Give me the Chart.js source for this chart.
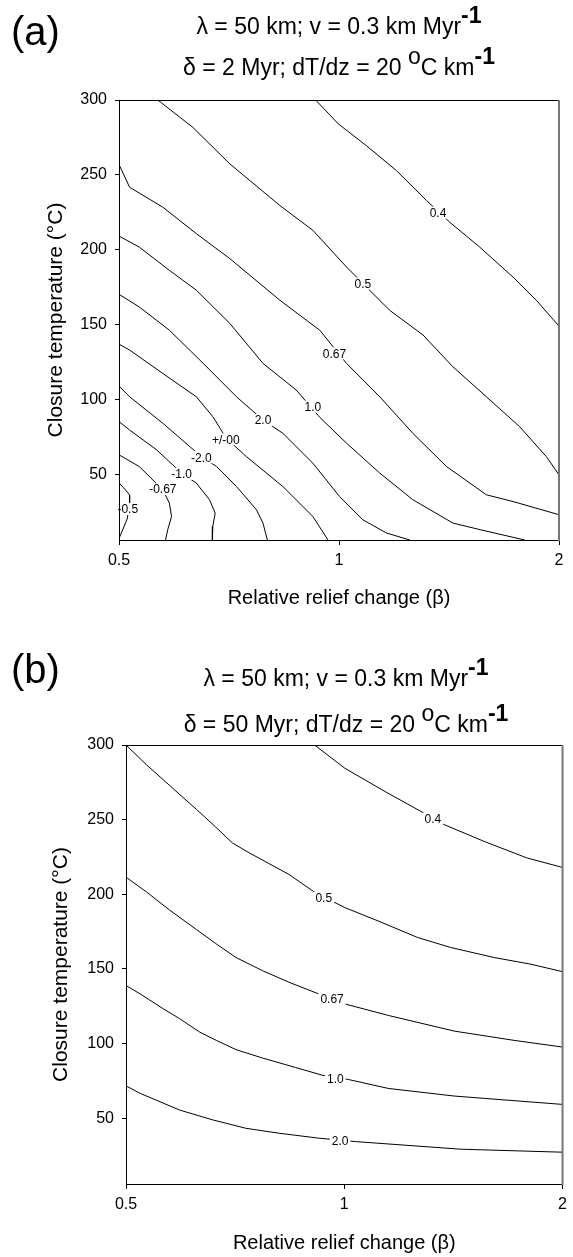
<!DOCTYPE html>
<html>
<head>
<meta charset="utf-8">
<script src="https://cdn.jsdelivr.net/npm/chart.js@4.4.0/dist/chart.umd.min.js"></script>
<style>
  body { margin:0; background:#fff; width:573px; height:1257px; position:relative; overflow:hidden;
         font-family:"Liberation Sans", Arial, sans-serif; color:#000; }
  canvas { position:absolute; left:0; }
  .tag { position:absolute; left:11px; font-size:40px; line-height:40px; }
  .ttl { position:absolute; width:500px; text-align:center; font-size:23px; line-height:23px; white-space:nowrap; }
  .up { position:relative; top:-0.5em; }
  .upb { position:relative; top:-0.5em; font-weight:bold; }
</style>
</head>
<body>
<canvas id="chartA" width="573" height="625" style="top:0"></canvas>
<canvas id="chartB" width="573" height="632" style="top:625px"></canvas>

<div class="tag" style="top:11px">(a)</div>
<div class="ttl" style="left:89px; top:15px">λ = 50 km; v = 0.3 km Myr<span class="upb">-1</span></div>
<div class="ttl" style="left:89px; top:56px">δ = 2 Myr; dT/dz = 20 <span class="up">o</span>C km<span class="upb">-1</span></div>

<div class="tag" style="top:649px">(b)</div>
<div class="ttl" style="left:96px; top:667px">λ = 50 km; v = 0.3 km Myr<span class="upb">-1</span></div>
<div class="ttl" style="left:96px; top:713px">δ = 50 Myr; dT/dz = 20 <span class="up">o</span>C km<span class="upb">-1</span></div>

<script>
// axis ticks
const betaTicks = [0.5, 1, 2];
const tempTicks = [50, 100, 150, 200, 250, 300];

// ---- panel (a): delta = 2 Myr ----
const aBeta04 = [0.929, 0.998, 1.090, 1.198, 1.317, 1.417, 1.558, 1.730, 1.862, 2.0];
const aTemp04 = [300, 284, 269.5, 252.9, 232.9, 218.4, 201.7, 181.7, 166.2, 148.9];
const aBeta05 = [0.565, 0.631, 0.709, 0.830, 0.921, 1.024, 1.173, 1.303, 1.432, 1.591, 1.767, 1.922, 2.0];
const aTemp05 = [300, 281.7, 257.3, 229.5, 212.9, 188.4, 159.5, 143, 121.7, 101.7, 81.7, 61.7, 49.5];
const aBeta067 = [0.5, 0.517, 0.574, 0.638, 0.709, 0.830, 0.941, 1.024, 1.137, 1.262, 1.403, 1.591, 1.730, 2.0];
const aTemp067 = [256.9, 241.7, 228.4, 210.7, 194, 166.2, 146.2, 124, 101.7, 77.3, 55.1, 36.2, 31.7, 22.9];
const aBeta10 = [0.5, 0.533, 0.586, 0.638, 0.709, 0.787, 0.874, 0.941, 1.024, 1.137, 1.262, 1.432, 1.56, 1.795];
const aTemp10 = [209.1, 201.7, 186.2, 172.9, 150.7, 124, 106.2, 88, 70.7, 50.7, 32.9, 17.3, 12.9, 6];
const aBeta20 = [0.5, 0.533, 0.586, 0.652, 0.724, 0.787, 0.838, 0.921, 1.002, 1.078, 1.161, 1.25];
const aTemp20 = [170.2, 161.7, 146.2, 124, 101.7, 86.2, 77.3, 57.3, 35, 19.5, 10.7, 6];
const aBetaInf = [0.5, 0.517, 0.574, 0.638, 0.672, 0.701, 0.747, 0.838, 0.921, 0.966];
const aTempInf = [136.9, 132.9, 117.3, 101.7, 88.4, 74, 61.7, 41.7, 21.7, 6];
const aBetaM20 = [0.5, 0.517, 0.574, 0.625, 0.648, 0.680, 0.724, 0.771, 0.787, 0.798];
const aTempM20 = [108.9, 101.7, 84, 68.4, 61.7, 55.1, 41.7, 26.2, 17.3, 6];
const aBetaM10 = [0.5, 0.517, 0.563, 0.609, 0.638, 0.665, 0.677, 0.672, 0.671];
const aTempM10 = [85.1, 79.5, 66.2, 50.7, 44, 32.9, 24, 15.1, 6];
const aBetaM067 = [0.5, 0.533, 0.574, 0.586, 0.590, 0.583, 0.579];
const aTempM067 = [62.9, 55.1, 39.5, 30.7, 21.7, 12.9, 6];
const aBetaM05 = [0.5, 0.507, 0.517, 0.517, 0.513, 0.505, 0.5];
const aTempM05 = [44.2, 41, 36.2, 30, 20, 12, 7];

const aLabelText = ['0.4', '0.5', '0.67', '1.0', '2.0', '+/-00', '-2.0', '-1.0', '-0.67', '-0.5'];
const aLabelBeta = [1.366, 1.078, 0.986, 0.921, 0.787, 0.700, 0.648, 0.609, 0.574, 0.514];
const aLabelTemp = [224.7, 177.3, 130.7, 95.1, 86.2, 73.3, 61.3, 50.2, 40, 26.7];

// ---- panel (b): delta = 50 Myr ----
const bBeta04 = [0.910, 1.002, 1.149, 1.276, 1.373, 1.558, 1.785, 2.0];
const bTemp04 = [300, 284.4, 267.7, 255.5, 246.7, 235.5, 224.4, 218.0];
const bBeta05 = [0.5, 0.534, 0.574, 0.625, 0.665, 0.701, 0.740, 0.839, 0.912, 1.002, 1.113, 1.262, 1.402, 1.608, 1.804, 2.0];
const bTemp05 = [300, 286.6, 273, 257, 245, 234.4, 227.7, 213.3, 201.1, 191.1, 182.2, 171.1, 164.4, 157.7, 153.3, 148.2];
const bBeta067 = [0.5, 0.534, 0.574, 0.625, 0.665, 0.709, 0.771, 0.839, 0.922, 1.0, 1.15, 1.418, 1.714, 2.0];
const bTemp067 = [211.5, 201.5, 189.5, 176.5, 167, 157.7, 148.9, 141.1, 133.3, 126.7, 118.9, 108.4, 102.2, 97.7];
const bBeta10 = [0.5, 0.523, 0.563, 0.593, 0.632, 0.666, 0.709, 0.771, 0.857, 0.932, 1.013, 1.15, 1.418, 2.0];
const bTemp10 = [138.9, 133.3, 123.3, 116.7, 107.7, 102.2, 96, 90.4, 84, 78.9, 76, 70, 64.9, 59.3];
const bBeta20 = [0.5, 0.523, 0.557, 0.593, 0.659, 0.732, 0.813, 0.922, 1.036, 1.448, 2.0];
const bTemp20 = [71.7, 66.7, 61.1, 55.5, 48.9, 43.3, 40, 36.7, 34.4, 29.3, 27.3];

const bLabelText = ['0.4', '0.5', '0.67', '1.0', '2.0'];
const bLabelBeta = [1.325, 0.937, 0.962, 0.972, 0.987];
const bLabelTemp = [250.7, 197.7, 130, 76.7, 34.9];

const fontFamily = '"Liberation Sans", Arial, sans-serif';

// contour labels with a white gap, then the plot frame on top
const contourPlugin = {
  id: 'contour',
  afterDatasetsDraw(chart, args, opts) {
    const ctx = chart.ctx;
    const a = chart.chartArea;
    const x = chart.scales.x, y = chart.scales.y;
    ctx.save();
    ctx.font = '12px ' + fontFamily;
    ctx.textAlign = 'center';
    ctx.textBaseline = 'middle';
    opts.text.forEach((t, i) => {
      const px = x.getPixelForValue(opts.beta[i]);
      const py = y.getPixelForValue(opts.temp[i]);
      const w = ctx.measureText(t).width + 4;
      ctx.fillStyle = '#fff';
      ctx.fillRect(px - w / 2, py - 6, w, 12);
      ctx.fillStyle = '#000';
      ctx.fillText(t, px, py + 1);
    });
    // frame
    ctx.lineWidth = 1;
    ctx.strokeStyle = '#000';
    ctx.beginPath();
    ctx.moveTo(a.left + 0.5, a.top);
    ctx.lineTo(a.left + 0.5, a.bottom + 0.5);
    ctx.lineTo(a.right, a.bottom + 0.5);
    ctx.moveTo(a.left, a.top + 0.5);
    ctx.lineTo(a.right, a.top + 0.5);
    ctx.stroke();
    ctx.strokeStyle = '#777';
    ctx.lineWidth = 2;
    ctx.beginPath();
    ctx.moveTo(a.right, a.top);
    ctx.lineTo(a.right, a.bottom + 1);
    ctx.stroke();
    ctx.restore();
  }
};

function makePanel(id, lines, lab, g) {
  const datasets = lines.map(l => ({
    label: l.name,
    data: l.beta.map((b, i) => ({ x: b, y: l.temp[i] })),
    showLine: true,
    borderColor: '#000',
    borderWidth: 1,
    pointRadius: 0,
    tension: 0,
    fill: false
  }));
  return new Chart(document.getElementById(id), {
    type: 'scatter',
    data: { datasets: datasets },
    plugins: [contourPlugin],
    options: {
      responsive: false,
      animation: false,
      layout: { padding: { top: g.top, right: g.right, left: 0, bottom: 0 } },
      plugins: {
        legend: { display: false },
        tooltip: { enabled: false },
        contour: lab
      },
      scales: {
        x: {
          type: 'logarithmic',
          min: 0.5,
          max: 2,
          afterBuildTicks: s => { s.ticks = betaTicks.map(v => ({ value: v })); },
          afterFit: s => { s.height = g.xHeight; },
          grid: { drawOnChartArea: false, drawTicks: true, tickLength: 5, color: '#000' },
          border: { display: false },
          ticks: { color: '#000', padding: 6, maxRotation: 0, font: { size: 16, family: fontFamily },
                   callback: v => String(v) },
          title: { display: true, text: 'Relative relief change (β)', color: '#000',
                   font: { size: 20, family: fontFamily }, padding: { top: 0, bottom: g.xTitlePad } }
        },
        y: {
          min: 6,
          max: 300,
          afterBuildTicks: s => { s.ticks = tempTicks.map(v => ({ value: v })); },
          afterFit: s => { s.width = g.yWidth; },
          grid: { drawOnChartArea: false, drawTicks: true, tickLength: 4, color: '#000' },
          border: { display: false },
          ticks: { color: '#000', padding: 8, font: { size: 16, family: fontFamily } },
          title: { display: true, text: 'Closure temperature (°C)', color: '#000',
                   font: { size: 21, family: fontFamily }, padding: { top: g.yTitlePad, bottom: 0 } }
        }
      }
    }
  });
}

makePanel('chartA', [
  { name: '0.4', beta: aBeta04, temp: aTemp04 },
  { name: '0.5', beta: aBeta05, temp: aTemp05 },
  { name: '0.67', beta: aBeta067, temp: aTemp067 },
  { name: '1.0', beta: aBeta10, temp: aTemp10 },
  { name: '2.0', beta: aBeta20, temp: aTemp20 },
  { name: '+/-00', beta: aBetaInf, temp: aTempInf },
  { name: '-2.0', beta: aBetaM20, temp: aTempM20 },
  { name: '-1.0', beta: aBetaM10, temp: aTempM10 },
  { name: '-0.67', beta: aBetaM067, temp: aTempM067 },
  { name: '-0.5', beta: aBetaM05, temp: aTempM05 }
], { text: aLabelText, beta: aLabelBeta, temp: aLabelTemp },
   { top: 100, right: 14, xHeight: 85, yWidth: 119, xTitlePad: 15, yTitlePad: 44 });

makePanel('chartB', [
  { name: '0.4', beta: bBeta04, temp: bTemp04 },
  { name: '0.5', beta: bBeta05, temp: bTemp05 },
  { name: '0.67', beta: bBeta067, temp: bTemp067 },
  { name: '1.0', beta: bBeta10, temp: bTemp10 },
  { name: '2.0', beta: bBeta20, temp: bTemp20 }
], { text: bLabelText, beta: bLabelBeta, temp: bLabelTemp },
   { top: 120, right: 7, xHeight: 73, yWidth: 126, xTitlePad: 2, yTitlePad: 49 });
</script>
</body>
</html>
